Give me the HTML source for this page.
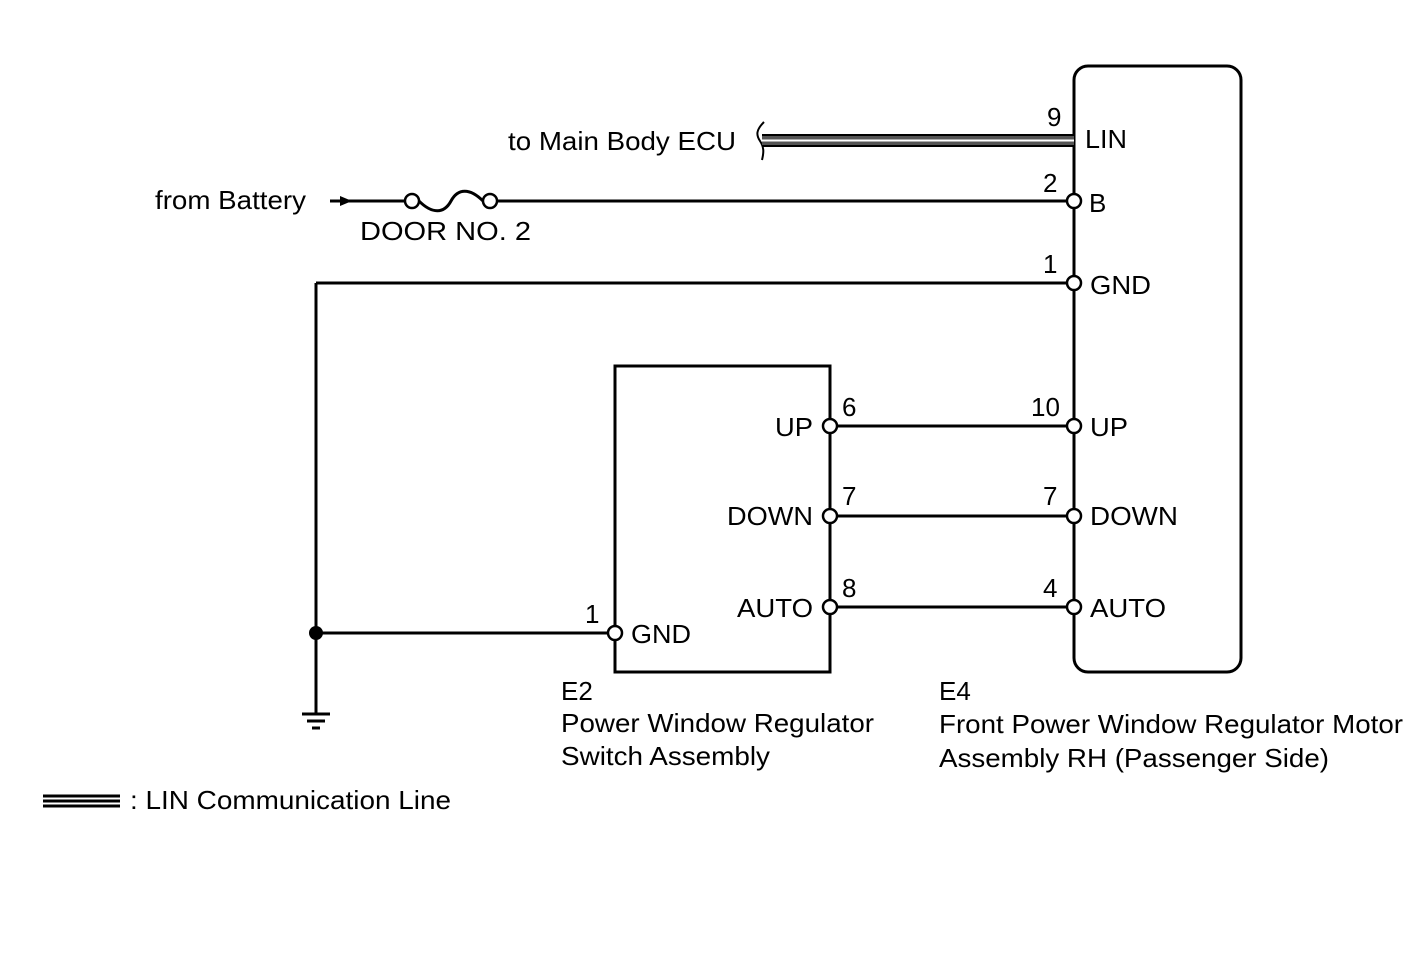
<!DOCTYPE html>
<html><head><meta charset="utf-8"><style>
html,body{margin:0;padding:0;background:#fff;}
svg{display:block;}
text{font-family:"Liberation Sans",Arial,sans-serif;font-size:26px;fill:#000;}
</style></head><body>
<svg width="1424" height="959" viewBox="0 0 1424 959" xmlns="http://www.w3.org/2000/svg">
<g stroke="#000" stroke-width="3" fill="none">
<rect x="1074" y="66" width="167" height="606" rx="14" ry="14"/>
<rect x="615" y="366" width="215" height="306"/>
<line x1="497" y1="201" x2="1067" y2="201"/>
<line x1="330" y1="201" x2="405" y2="201"/>
<path d="M419 201 C432 214,444 214,451 201 C458 188,470 188,483 201"/>
<line x1="316" y1="283" x2="1067" y2="283"/>
<line x1="316" y1="283" x2="316" y2="714"/>
<line x1="316" y1="633" x2="608" y2="633"/>
<line x1="837" y1="426" x2="1067" y2="426"/>
<line x1="837" y1="516" x2="1067" y2="516"/>
<line x1="837" y1="607" x2="1067" y2="607"/>
<path d="M764 122 C756 130,756 135,760 141 C764 147,764 152,762 160" stroke-width="2"/>
</g>
<rect x="762" y="135" width="312" height="11" fill="#555"/>
<line x1="762" y1="135" x2="1074" y2="135" stroke="#000" stroke-width="2"/>
<line x1="762" y1="140.5" x2="1074" y2="140.5" stroke="#fff" stroke-width="2"/>
<line x1="762" y1="146" x2="1074" y2="146" stroke="#000" stroke-width="2"/>
<polygon points="340,196 352,201 340,206" fill="#000"/>
<g fill="#fff" stroke="#000" stroke-width="2.5">
<circle cx="412" cy="201" r="7"/>
<circle cx="490" cy="201" r="7"/>
<circle cx="1074" cy="201" r="7"/>
<circle cx="1074" cy="283" r="7"/>
<circle cx="1074" cy="426" r="7"/>
<circle cx="1074" cy="516" r="7"/>
<circle cx="1074" cy="607" r="7"/>
<circle cx="830" cy="426" r="7"/>
<circle cx="830" cy="516" r="7"/>
<circle cx="830" cy="607" r="7"/>
<circle cx="615" cy="633" r="7"/>
</g>
<circle cx="316" cy="633" r="7" fill="#000"/>
<g stroke="#000" stroke-width="3">
<line x1="302" y1="714" x2="330" y2="714"/>
<line x1="307" y1="721" x2="325" y2="721"/>
<line x1="312" y1="728" x2="320" y2="728"/>
</g>
<g stroke="#000" stroke-width="3">
<line x1="43" y1="796" x2="120" y2="796"/>
<line x1="43" y1="801" x2="120" y2="801"/>
<line x1="43" y1="806" x2="120" y2="806"/>
</g>
<text x="130" y="809" textLength="321" lengthAdjust="spacingAndGlyphs">: LIN Communication Line</text>
<text x="508" y="150" textLength="228" lengthAdjust="spacingAndGlyphs">to Main Body ECU</text>
<text x="155" y="209" textLength="151" lengthAdjust="spacingAndGlyphs">from Battery</text>
<text x="360" y="240" textLength="171" lengthAdjust="spacingAndGlyphs">DOOR  NO. 2</text>
<text x="1047" y="126">9</text>
<text x="1085" y="148" textLength="42" lengthAdjust="spacingAndGlyphs">LIN</text>
<text x="1043" y="192">2</text>
<text x="1089" y="212">B</text>
<text x="1043" y="273">1</text>
<text x="1090" y="294" textLength="61" lengthAdjust="spacingAndGlyphs">GND</text>
<text x="1031" y="416">10</text>
<text x="1090" y="436" textLength="38" lengthAdjust="spacingAndGlyphs">UP</text>
<text x="1043" y="505">7</text>
<text x="1090" y="525" textLength="88" lengthAdjust="spacingAndGlyphs">DOWN</text>
<text x="1043" y="597">4</text>
<text x="1090" y="617" textLength="76" lengthAdjust="spacingAndGlyphs">AUTO</text>
<text x="842" y="416">6</text>
<text x="842" y="505">7</text>
<text x="842" y="597">8</text>
<text x="775" y="436" textLength="38" lengthAdjust="spacingAndGlyphs">UP</text>
<text x="727" y="525" textLength="86" lengthAdjust="spacingAndGlyphs">DOWN</text>
<text x="737" y="617" textLength="76" lengthAdjust="spacingAndGlyphs">AUTO</text>
<text x="585" y="623">1</text>
<text x="631" y="643" textLength="60" lengthAdjust="spacingAndGlyphs">GND</text>
<text x="561" y="700">E2</text>
<text x="561" y="732" textLength="313" lengthAdjust="spacingAndGlyphs">Power Window Regulator</text>
<text x="561" y="765" textLength="209" lengthAdjust="spacingAndGlyphs">Switch Assembly</text>
<text x="939" y="700">E4</text>
<text x="939" y="733" textLength="464" lengthAdjust="spacingAndGlyphs">Front Power Window Regulator Motor</text>
<text x="939" y="767" textLength="390" lengthAdjust="spacingAndGlyphs">Assembly RH (Passenger Side)</text>
</svg>
</body></html>
